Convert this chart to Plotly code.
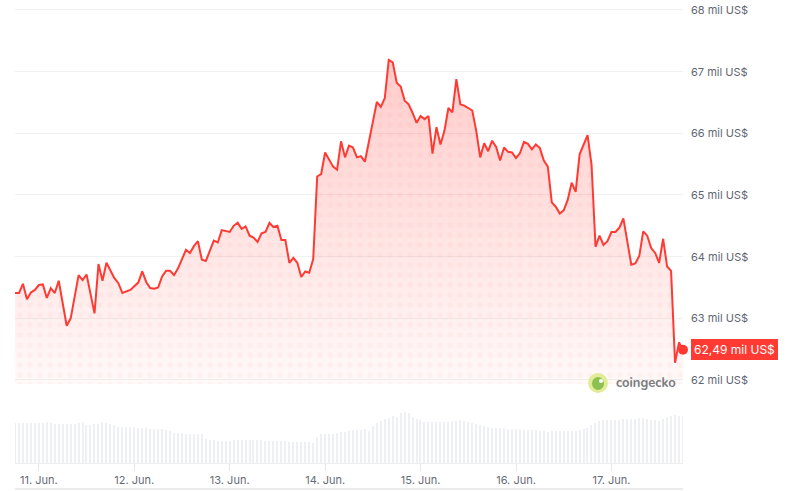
import plotly.graph_objects as go
import pandas as pd

# ---------------- data ----------------
base_time = "2024-06-11 00:00"

price_hours = [
    -6, -5, -4, -3, -2, -1, 0, 1, 2, 3,
    4, 5, 7, 8, 10, 11, 12, 14, 15, 16,
    17, 19, 20, 21, 23, 25, 26, 27, 28, 29,
    30, 31, 32, 33, 34, 35, 37, 38, 39, 40,
    41, 42, 44, 45, 46, 48, 49, 50, 51, 52,
    53, 54, 55, 56, 57, 58, 59, 60, 61, 62,
    63, 64, 65, 66, 67, 68, 69, 70, 71, 72,
    74, 75, 76, 77, 78, 79, 80, 81, 82, 85,
    86, 87, 88, 89, 90, 91, 92, 93, 94, 95,
    96, 97, 98, 99, 100, 101, 102, 103, 104, 105,
    106, 107, 109, 110, 111, 112, 113, 114, 115, 116,
    117, 118, 119, 120, 121, 122, 123, 124, 125, 126,
    127, 128, 129, 130, 131, 132, 133, 134, 135, 136,
    138, 139, 140, 141, 142, 143, 144, 145, 146, 147,
    149, 150, 151, 152, 153, 154, 155, 156, 157, 158,
    159, 160, 161, 162,
]

price_values = [
    63410, 63410, 63560, 63310, 63420, 63460, 63540, 63550, 63330, 63490,
    63410, 63610, 62880, 63000, 63700, 63620, 63710, 63080, 63880, 63610,
    63900, 63650, 63570, 63410, 63460, 63580, 63760, 63590, 63490, 63480,
    63500, 63680, 63770, 63770, 63700, 63810, 64110, 64060, 64170, 64250,
    63950, 63930, 64260, 64230, 64430, 64400, 64500, 64550, 64450, 64490,
    64340, 64310, 64240, 64380, 64400, 64550, 64480, 64500, 64270, 64270,
    63900, 63980, 63900, 63670, 63760, 63740, 63960, 65300, 65340, 65690,
    65460, 65410, 65870, 65610, 65800, 65770, 65610, 65630, 65540, 66510,
    66430, 66570, 67190, 67150, 66820, 66760, 66530, 66470, 66330, 66170,
    66280, 66230, 66280, 65670, 66100, 65820, 66040, 66410, 66340, 66880,
    66470, 66450, 66370, 66040, 65610, 65840, 65710, 65880, 65780, 65560,
    65770, 65700, 65690, 65600, 65680, 65860, 65830, 65740, 65820, 65760,
    65560, 65460, 64880, 64810, 64700, 64750, 64920, 65200, 65050, 65660,
    65970, 65490, 64160, 64340, 64190, 64250, 64400, 64400, 64470, 64620,
    63870, 63890, 64010, 64410, 64340, 64140, 64060, 63900, 64290, 63840,
    63770, 62280, 62610, 62490,
]

volume_start_hour = -6
volume_values = [
    40, 40, 40, 40, 40, 40, 40, 40, 41, 40,
    39, 39, 39, 39, 39, 39, 40, 41,
    38, 38, 39, 39, 41, 40, 39,
    38, 36, 36, 36, 36, 36,
    35, 35, 35, 34, 34, 34, 34,
    33, 32, 30, 30, 30,
    29, 29, 29, 29, 29,
    24, 23, 23,
    22, 22, 22, 22, 23, 23, 23, 23, 23, 23, 23, 23, 22, 22, 22, 22, 22, 22, 21, 21, 21, 21,
    21, 21, 20,
    26, 29, 29, 29, 29,
    30, 31, 31, 32,
    33, 33, 33, 34, 32,
    37, 40, 42, 44, 45, 47,
    46, 50, 51, 50, 46, 44, 43,
    41, 41, 41, 41, 41, 41, 41, 42, 42,
    43, 42, 41, 40, 39, 38, 37, 36,
    35, 35, 35, 35, 34, 34, 34, 34,
    33, 33, 33, 33, 32, 32, 31,
    32, 32, 32, 32, 32, 32, 32,
    33, 34, 35, 38, 40, 42,
    43, 43, 43, 43, 43, 44, 44, 44, 44, 45,
    45, 44, 43, 43, 42, 44, 46, 47, 48, 47, 47,
]

day_ticks = ["2024-06-11", "2024-06-12", "2024-06-13", "2024-06-14",
             "2024-06-15", "2024-06-16", "2024-06-17"]
day_labels = ["11. Jun.", "12. Jun.", "13. Jun.", "14. Jun.",
              "15. Jun.", "16. Jun.", "17. Jun."]

price_ticks = [62000, 63000, 64000, 65000, 66000, 67000, 68000]
price_tick_labels = ["62 mil US$", "63 mil US$", "64 mil US$", "65 mil US$",
                     "66 mil US$", "67 mil US$", "68 mil US$"]

last_price_label = "62,49 mil US$"

# ---------------- build ----------------
base = pd.Timestamp(base_time)
price_times = base + pd.to_timedelta(price_hours, unit="h")
vol_times = base + pd.to_timedelta(
    list(range(volume_start_hour, volume_start_hour + len(volume_values))), unit="h")

RED = "#ff3a33"
Y_MIN, Y_MAX = 61935, 68162

fig = go.Figure()

fig.add_trace(go.Bar(
    x=vol_times, y=volume_values, yaxis="y2",
    marker=dict(color="#eef0f3", line=dict(width=0)),
    width=0.3 * 3600 * 1000, hoverinfo="skip",
))

# dotted pattern layer
fig.add_trace(go.Scatter(
    x=price_times, y=price_values, mode="lines", line=dict(width=0, color=RED),
    fill="tozeroy", fillcolor="rgba(0,0,0,0)",
    fillpattern=dict(shape=".", size=10, solidity=0.25,
                     fgcolor="rgba(255,58,51,0.08)", bgcolor="rgba(0,0,0,0)"),
    hoverinfo="skip",
))

# gradient fill + line
fig.add_trace(go.Scatter(
    x=price_times, y=price_values, mode="lines",
    line=dict(color=RED, width=2),
    fill="tozeroy",
    fillgradient=dict(type="vertical",
                      colorscale=[[0, "rgba(255,58,51,0.03)"], [1, "rgba(255,58,51,0.26)"]],
                      start=Y_MIN, stop=67200),
))

fig.add_trace(go.Scatter(
    x=[price_times[-1]], y=[price_values[-1]], mode="markers",
    marker=dict(color=RED, size=10), cliponaxis=False, hoverinfo="skip",
))

fig.update_layout(
    width=788, height=491,
    margin=dict(l=15, r=105, t=0, b=28),
    paper_bgcolor="white", plot_bgcolor="white",
    showlegend=False,
    font=dict(family="Inter, Roboto, sans-serif", size=11, color="#5f6673"),
    xaxis=dict(
        type="date", anchor="y2",
        range=[base - pd.Timedelta(hours=6), base + pd.Timedelta(hours=162)],
        tickvals=day_ticks, ticktext=day_labels,
        ticks="outside", ticklen=7, tickcolor="#e3e6ea",
        showline=True, linecolor="#eceef1", linewidth=1,
        showgrid=False, zeroline=False,
        tickfont=dict(size=11, color="#666b75"),
    ),
    yaxis=dict(
        domain=[(463 - 384) / 463, 1], range=[Y_MIN, Y_MAX],
        side="right", anchor="x",
        tickvals=price_ticks, ticktext=price_tick_labels,
        showgrid=True, gridcolor="#f1f1f1", gridwidth=1,
        zeroline=False, showline=False, ticks="",
        ticklabelstandoff=7,
        tickfont=dict(size=11, color="#5f6673"),
    ),
    yaxis2=dict(domain=[0, 68 / 463], range=[0, 68], visible=False),
    bargap=0,
)

# bottom border line
fig.add_shape(type="line", xref="paper", yref="paper",
              x0=0, x1=1, y0=-(489 - 463) / 463, y1=-(489 - 463) / 463,
              line=dict(color="#ebebeb", width=2))

# last price label
fig.add_annotation(
    xref="paper", x=1, xshift=8, xanchor="left",
    yref="y", y=price_values[-1], yanchor="middle",
    text=last_price_label, showarrow=False,
    bgcolor=RED, bordercolor=RED, borderpad=2,
    font=dict(color="white", size=12, family="Inter, Roboto, sans-serif"),
)

# coingecko watermark
lx, ly = (598 - 15) / 668, (463 - 383) / 463
fig.add_shape(type="circle", xref="paper", yref="paper", xsizemode="pixel", ysizemode="pixel",
              xanchor=lx, yanchor=ly, x0=-10, x1=10, y0=-10, y1=10,
              fillcolor="#e2eb95", line=dict(width=0))
fig.add_shape(type="circle", xref="paper", yref="paper", xsizemode="pixel", ysizemode="pixel",
              xanchor=lx, yanchor=ly, x0=-6, x1=6, y0=-7, y1=6,
              fillcolor="#8cc152", line=dict(width=0))
fig.add_shape(type="circle", xref="paper", yref="paper", xsizemode="pixel", ysizemode="pixel",
              xanchor=lx, yanchor=ly, x0=1, x1=5, y0=0, y1=4,
              fillcolor="white", line=dict(width=0))
fig.add_annotation(
    xref="paper", yref="paper", x=lx, y=ly, xshift=16, xanchor="left", yanchor="middle",
    text="<b>coingecko</b>", showarrow=False,
    font=dict(color="#7a7c80", size=13, family="Nunito, Lato, Inter, sans-serif"),
)

fig.write_html("out.html", config={"displayModeBar": False},
               post_script="document.body.style.margin='0';")
